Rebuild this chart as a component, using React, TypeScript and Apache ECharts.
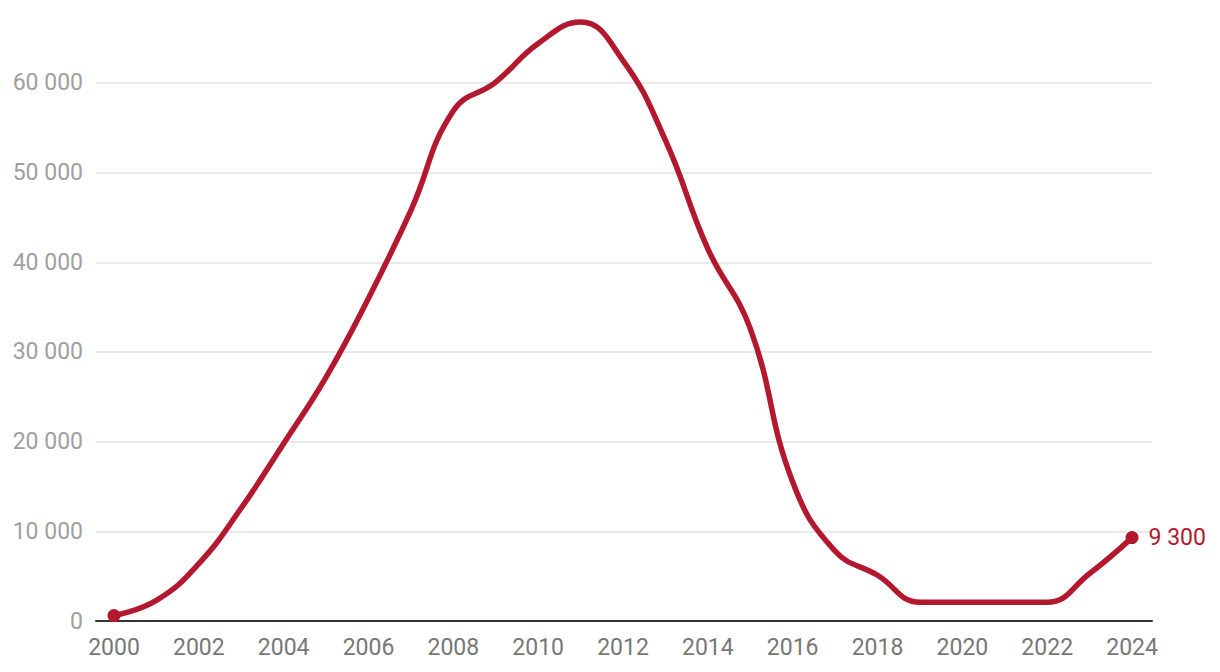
import React, { useEffect, useRef } from "react";
import * as echarts from "echarts";

const years = [2000, 2001, 2002, 2003, 2004, 2005, 2006, 2007, 2008, 2009, 2010, 2011, 2012,
  2013, 2014, 2015, 2016, 2017, 2018, 2019, 2020, 2021, 2022, 2023, 2024];
const values = [600, 2300, 6400, 12600, 19800, 27200, 36000, 45800, 56900, 60100, 64400, 66800, 62500,
  53600, 41500, 32600, 15500, 7800, 5100, 2100, 2100, 2100, 2100, 5300, 9300];
const xTickLabels = [2000, 2002, 2004, 2006, 2008, 2010, 2012, 2014, 2016, 2018, 2020, 2022, 2024];
const yTickLabels = [0, 10000, 20000, 30000, 40000, 50000, 60000];

const fmt = (v: number) => String(v).replace(/\B(?=(\d{3})+(?!\d))/g, " ");

export default function App() {
  const ref = useRef<HTMLDivElement>(null);
  useEffect(() => {
    document.body.style.margin = "0";
    const chart = echarts.init(ref.current!, null, { renderer: "svg" });
    const red = "#b3182f";
    const data = years.map((y, i) => {
      const last = i === years.length - 1;
      const first = i === 0;
      return {
        value: [y, values[i]],
        symbol: first || last ? "circle" : "none",
        symbolSize: 13,
        label: last
          ? {
              show: true,
              position: "right",
              distance: 10,
              formatter: fmt(values[i]),
              color: red,
              fontSize: 23,
              fontFamily: "Roboto",
            }
          : { show: false },
      };
    });
    chart.setOption({
      animation: false,
      grid: { left: 96, right: 68, top: 0, bottom: 51, containLabel: false },
      xAxis: {
        type: "value",
        min: 1999.576,
        max: 2024.47,
        axisLine: { show: true, lineStyle: { color: "#333", width: 2 } },
        axisTick: { show: false },
        splitLine: { show: false },
        axisLabel: {
          customValues: xTickLabels,
          formatter: (v: number) => String(v),
          color: "#777",
          fontSize: 23,
          fontFamily: "Roboto",
          margin: 15,
        },
      },
      yAxis: {
        type: "value",
        min: 0,
        max: 69250,
        interval: 10000,
        axisLine: { show: false },
        axisTick: { show: false },
        splitLine: { show: true, showMaxLine: false, lineStyle: { color: "#e3e3e3", width: 1.5 } },
        axisLabel: {
          customValues: yTickLabels,
          formatter: (v: number) => fmt(v),
          color: "#a0a0a0",
          fontSize: 23,
          fontFamily: "Roboto",
          margin: 13,
        },
      },
      series: [
        {
          type: "line",
          data,
          smooth: 0.45,
          smoothConstraint: false,
          lineStyle: { color: red, width: 5.5, cap: "round", join: "round" },
          itemStyle: { color: red },
          z: 5,
        },
      ],
    });
    return () => chart.dispose();
  }, []);
  return <div ref={ref} style={{ width: 1220, height: 672 }} />;
}
